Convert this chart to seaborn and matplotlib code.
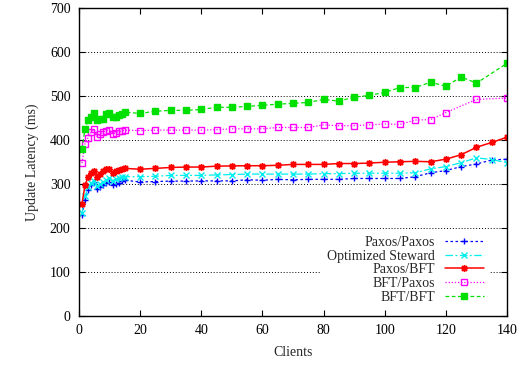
import numpy as np
import pandas as pd
import matplotlib
matplotlib.use("Agg")
import matplotlib.pyplot as plt
import seaborn as sns

dense = [1, 2, 3, 4, 5, 6, 7, 8, 9, 10, 11, 12, 13, 14, 15]
sparse = list(range(20, 141, 5))

clients_full = dense + sparse

paxos_paxos = [230, 264, 287, 297, 304, 289, 293, 298, 302, 304, 298, 301, 302, 307, 309,
               305, 306, 307, 307, 307.5, 307.5, 307.5, 310, 309, 311, 310, 311, 311, 311,
               313, 313, 313, 313, 317, 326, 331, 340, 346, 355, 357]
opt_steward = [235, 272, 293, 302, 308, 295, 301, 306, 310, 314, 307.5, 312, 314, 317, 317,
               317, 318, 320, 320, 320, 321, 322, 323, 323, 323, 323, 323, 324, 324,
               325, 325, 325, 325, 326, 335, 340, 349, 360, 356, 349]
paxos_bft = [255, 298, 316, 326, 331, 316, 323, 331, 334, 334, 326, 331, 332.5, 335, 336,
             334, 336, 338, 339, 339, 341, 341.6, 342, 342, 343, 345, 345, 345, 347,
             347, 348, 350, 351, 352, 351, 357, 367, 384, 395, 407]

clients_bftpaxos = dense + list(range(20, 121, 5)) + [130, 140]
bft_paxos = [348, 392, 406, 418, 425, 408, 414, 419, 422, 423, 414, 417, 420, 421, 423,
             422, 423, 423, 423, 423, 424, 426, 426, 426, 429, 429, 429, 435, 433,
             433, 435, 437, 436, 446, 447, 463, 493, 496]

clients_bftbft = dense + list(range(20, 131, 5)) + [140]
bft_bft = [380, 426, 446, 454, 461, 446, 449, 449, 459, 461, 452, 454, 457, 460, 464,
           461, 466, 468, 468, 470, 475, 475, 477, 479.5, 482, 484, 486, 493, 489,
           498, 502, 509, 520, 520, 532, 523, 544, 530, 575]

series = [
    ("Paxos/Paxos", clients_full, paxos_paxos, "#0000ff", (0, (2, 2)), "+", "full"),
    ("Optimized Steward", clients_full, opt_steward, "#00eeee", (0, (6, 2, 1.5, 2)), "x", "full"),
    ("Paxos/BFT", clients_full, paxos_bft, "#ff0000", "-", (8, 2, 0), "full"),
    ("BFT/Paxos", clients_bftpaxos, bft_paxos, "#ff00ff", (0, (1, 1.5)), "s", "none"),
    ("BFT/BFT", clients_bftbft, bft_bft, "#00e000", (0, (3, 2)), "s", "full"),
]

sns.set_style("ticks")
plt.rcParams["font.family"] = ["Liberation Serif", "DejaVu Serif"]
plt.rcParams["font.size"] = 10

fig = plt.figure(figsize=(5.26, 3.66), dpi=100)
ax = fig.add_axes([0.150, 0.1366, 0.814, 0.8404])

for name, xs, ys, color, ls, marker, fill in series:
    df = pd.DataFrame({"Clients": xs, "Latency": ys})
    kw = dict(markeredgecolor=color, markersize=5, markeredgewidth=1.0)
    kw["markerfacecolor"] = "none" if fill == "none" else color
    sns.lineplot(data=df, x="Clients", y="Latency", ax=ax, color=color,
                 linestyle=ls, marker=marker, linewidth=1.1 if ls == "-" else 0.9,
                 label=name, estimator=None, **kw)

ax.set_xlim(0, 140)
ax.set_ylim(0, 700)
ax.set_xticks(np.arange(0, 141, 20))
ax.set_yticks(np.arange(0, 701, 100))
ax.yaxis.grid(True, color="black", linestyle=(0, (1, 2)), linewidth=0.7)
ax.set_axisbelow(True)
ax.tick_params(direction="in", length=4, width=0.8, top=True, right=True, pad=6,
               labelsize=10, colors="black")
for s in ax.spines.values():
    s.set_linewidth(1.0)
    s.set_color("black")
ax.set_xlabel("Clients", fontsize=10, labelpad=6)
ax.set_ylabel("Update Latency (ms)", fontsize=10, labelpad=8)

leg = ax.legend(loc="lower right", bbox_to_anchor=(0.958, 0.022), markerfirst=False,
                frameon=True, fancybox=False, framealpha=1.0, edgecolor="none",
                facecolor="white", fontsize=10, handlelength=2.8, handletextpad=0.7,
                labelspacing=0.05, borderpad=0.4, borderaxespad=0.0)

fig.savefig("out.png", dpi=100)
